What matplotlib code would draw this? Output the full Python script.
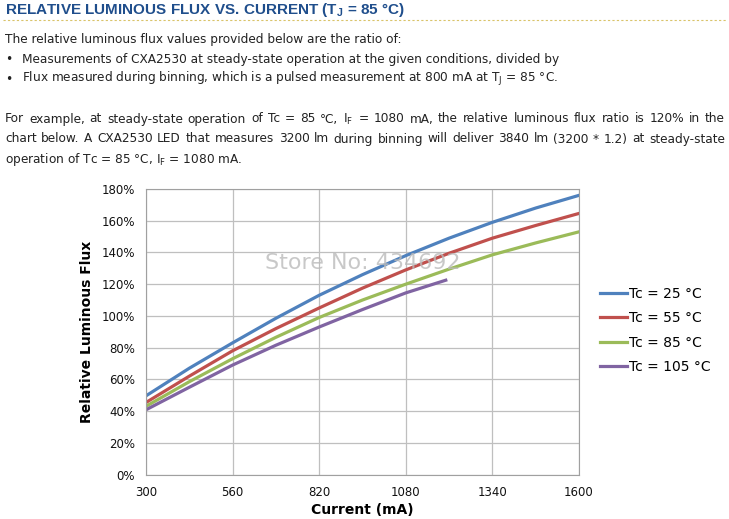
import matplotlib.pyplot as plt
from matplotlib.ticker import FuncFormatter

current = [300, 430, 560, 690, 820, 950, 1080, 1210, 1340, 1470, 1600]
flux_25 = [49.6, 67, 83, 98.5, 113, 126, 138, 149, 159, 168, 176]
flux_55 = [45.4, 62, 78, 92, 105, 117.5, 129, 139.5, 149, 157, 164.6]
flux_85 = [43, 58.5, 73, 86.5, 99, 110, 120, 129.5, 138.5, 146, 153]
current_105 = [300, 430, 560, 690, 820, 950, 1080, 1200]
flux_105 = [40.8, 55, 69, 81.5, 93, 104, 114.5, 122.5]

labels = ['Tc = 25 °C', 'Tc = 55 °C', 'Tc = 85 °C', 'Tc = 105 °C']
colors = ['#4F81BD', '#C0504D', '#9BBB59', '#8064A2']
x_ticks = [300, 560, 820, 1080, 1340, 1600]
y_ticks = [0, 20, 40, 60, 80, 100, 120, 140, 160, 180]

fig = plt.figure(figsize=(7.29, 5.19), dpi=100)
W, H = 729, 519

def fy(py):
    return 1 - py / H

# header text
fig.text(5 / W, fy(10), r'RELATIVE LUMINOUS FLUX VS. CURRENT (T$_\mathregular{J}$ = 85 °C)',
         fontsize=11, fontweight='bold', color='#1F4E8C', va='center',
         family='Liberation Sans')
fig.add_artist(plt.Line2D([3 / W, 726 / W], [fy(20), fy(20)], color='#D9C36A',
                          lw=0.8, ls=(0, (2, 2))))
txt = dict(fontsize=8.7, color='#222222', va='center')
fig.text(5 / W, fy(39), 'The relative luminous flux values provided below are the ratio of:', **txt)
fig.text(5 / W, fy(59), '•', **txt)
fig.text(22 / W, fy(59), 'Measurements of CXA2530 at steady-state operation at the given conditions, divided by', **txt)
fig.text(5 / W, fy(79), '•', **txt)
fig.text(22 / W, fy(79), r'Flux measured during binning, which is a pulsed measurement at 800 mA at T$_\mathregular{J}$ = 85 °C.', **txt)

# justified paragraph
para = [
    r'For example, at steady-state operation of Tc = 85 °C, I$_\mathregular{F}$ = 1080 mA, the relative luminous flux ratio is 120% in the',
    'chart below. A CXA2530 LED that measures 3200 lm during binning will deliver 3840 lm (3200 * 1.2) at steady-state',
]
renderer = fig.canvas.get_renderer()
for line, py in zip(para, [119, 139]):
    words = line.split(' ')
    arts = [fig.text(0, fy(py), w, **txt) for w in words]
    widths = [a.get_window_extent(renderer).width for a in arts]
    gap = (725 - 5 - sum(widths)) / (len(words) - 1)
    x = 5
    for a, w in zip(arts, widths):
        a.set_x(x / W)
        x += w + gap
fig.text(5 / W, fy(159), r'operation of Tc = 85 °C, I$_\mathregular{F}$ = 1080 mA.', **txt)

# chart
ax = fig.add_axes([146 / W, fy(474.5), (579 - 146) / W, (474.5 - 189) / H])
series = [(current, flux_25), (current, flux_55), (current, flux_85), (current_105, flux_105)]
for (xs, ys), lab, c in zip(series, labels, colors):
    ax.plot(xs, ys, color=c, lw=2.3, label=lab)

ax.set_xlim(300, 1600)
ax.set_ylim(0, 180)
ax.set_xticks(x_ticks)
ax.set_yticks(y_ticks)
ax.yaxis.set_major_formatter(FuncFormatter(lambda v, p: f'{v:.0f}%'))
ax.grid(True, color='#BFBFBF', lw=0.9)
ax.set_axisbelow(True)
for s in ax.spines.values():
    s.set_color('#A0A0A0')
ax.tick_params(length=0, labelsize=8.5, colors='#111111')
ax.tick_params(axis='x', pad=8)
ax.tick_params(axis='y', pad=8)
ax.set_xlabel('Current (mA)', fontsize=10, fontweight='bold', labelpad=3)
ax.set_ylabel('Relative Luminous Flux', fontsize=10, fontweight='bold', labelpad=5)

ax.text(0.5, 0.74, 'Store No: 434692', transform=ax.transAxes, fontsize=16,
        color='#BBBBBB', alpha=0.8, ha='center', va='center')

ax.legend(loc='center left', bbox_to_anchor=(1.02, 0.505), frameon=False,
          fontsize=10, handlelength=1.9, handletextpad=0.2, labelspacing=0.75)

fig.savefig('out.png', dpi=100)
